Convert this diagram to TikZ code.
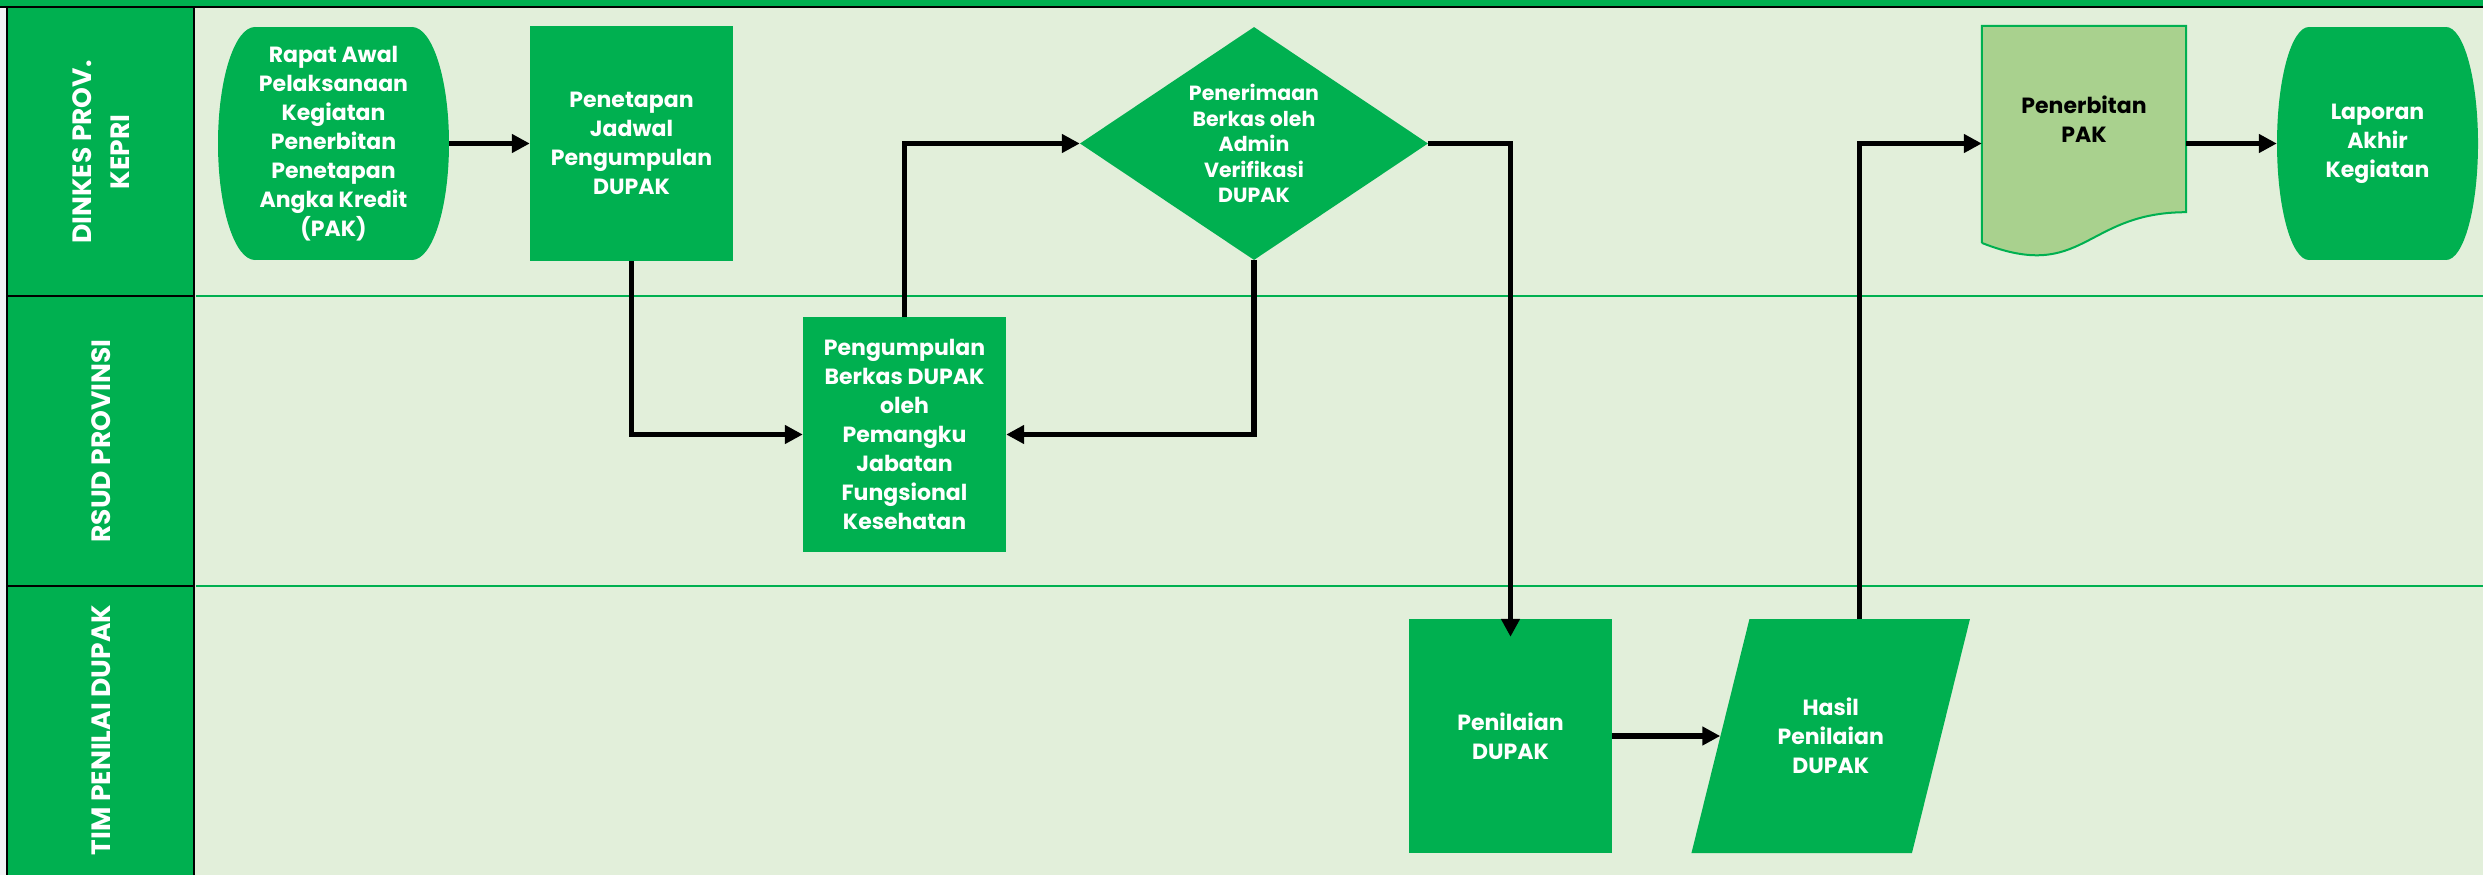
\documentclass[tikz,border=0pt]{standalone}
\usepackage{fontspec}
\setmainfont{Poppins}
\usetikzlibrary{arrows.meta,shapes.geometric}
\definecolor{lanegreen}{HTML}{00B050}
\definecolor{lanefill}{HTML}{E2EFDA}
\definecolor{docfill}{HTML}{A9D18E}
\definecolor{edgefill}{HTML}{F2F3F5}
\tikzset{
  box/.style={inner sep=0pt, align=center, text=white, font=\bfseries\fontsize{22}{29}\selectfont},
  proc/.style={box, fill=lanegreen},
  term/.style={box, fill=lanefill, path picture={
      \fill[lanegreen] ([xshift=#1]path picture bounding box.south west) rectangle ([xshift=-#1]path picture bounding box.north east);
      \fill[lanegreen] ([xshift=#1]path picture bounding box.west) ellipse [x radius=#1, y radius=116.5pt];
      \fill[lanegreen] ([xshift=-#1]path picture bounding box.east) ellipse [x radius=#1, y radius=116.5pt];}},
  decide/.style={box, diamond, fill=lanegreen, aspect=1.49, font=\bfseries\fontsize{20.5}{25.5}\selectfont},
  dataio/.style={box, fill=lanefill, path picture={
      \fill[lanegreen] ([xshift=#1]path picture bounding box.north west) -- (path picture bounding box.north east)
        -- ([xshift=-#1]path picture bounding box.south east) -- (path picture bounding box.south west) -- cycle;}},
  doc/.style={box, fill=docfill, text=black},
  flow/.style={line width=5.5pt, -{Triangle[length=18pt, width=18pt]}},
  lanelabel/.style={rotate=90, align=center, text=white, font=\bfseries\fontsize{26.5}{38}\selectfont}
}
\begin{document}
\begin{tikzpicture}[x=1pt,y=-1pt]
\useasboundingbox (0,0) rectangle (2483,875);

\fill[lanefill] (194,8) rectangle (2483,875);
\fill[lanegreen] (7,8) rectangle (194,875);
\fill[edgefill] (0,8) rectangle (6,875);
\fill[lanegreen] (0,0) rectangle (2483,6);
\draw[line width=2.5pt] (0,7) -- (2483,7);
\draw[line width=2.5pt] (7,7) -- (7,875) (194,7) -- (194,875);

\foreach \y in {296,586} {
  \draw[line width=2.5pt] (7,\y) -- (194,\y);
  \draw[lanegreen, line width=2.5pt] (195.5,\y) -- (2483,\y);
}

\foreach \y/\lanename/\lanetext in {152/dinkes/{DINKES PROV.\\KEPRI}, 441/rsud/{RSUD PROVINSI}, 730/tim/{TIM PENILAI DUPAK}}
  \node[lanelabel] (\lanename) at (101,\y) {\lanetext};

\node[term=37pt, minimum width=231pt, minimum height=233pt] (rapat) at (333.5,143.5) {Rapat Awal\\Pelaksanaan\\Kegiatan\\Penerbitan\\Penetapan\\Angka Kredit\\(PAK)};
\node[proc, minimum width=203pt, minimum height=235pt] (jadwal) at (631.5,143.5) {Penetapan\\Jadwal\\Pengumpulan\\DUPAK};
\node[proc, minimum width=203pt, minimum height=235pt] (kumpul) at (904.5,434.5) {Pengumpulan\\Berkas DUPAK\\oleh\\Pemangku\\Jabatan\\Fungsional\\Kesehatan};
\node[decide, minimum width=348pt, minimum height=233pt] (terima) at (1254,143.5) {Penerimaan\\Berkas oleh\\Admin\\Verifikasi\\DUPAK};
\node[proc, minimum width=203pt, minimum height=234pt] (nilai) at (1510.5,736) {Penilaian\\DUPAK};
\node[dataio=58pt, minimum width=278.5pt, minimum height=234pt] (hasil) at (1830.7,736) {Hasil\\Penilaian\\DUPAK};
\node[doc, minimum width=204pt, minimum height=186pt] (pak) at (2084,119) {Penerbitan\\PAK};
\fill[docfill] (pak.south east) .. controls (pak.south) and ([yshift=-71pt]pak.south) .. ([yshift=-30.7pt]pak.south west) -- (pak.south west) -- cycle;
\draw[lanegreen, line width=2pt] ([yshift=-30.7pt]pak.south west) -- (pak.north west) -- (pak.north east) -- (pak.south east) .. controls (pak.south) and ([yshift=-71pt]pak.south) .. ([yshift=-30.7pt]pak.south west);
\node[term=32pt, minimum width=201pt, minimum height=233pt] (lapor) at (2377.5,143.5) {Laporan\\Akhir\\Kegiatan};

\draw[flow] (rapat.east) -- (jadwal.west);
\draw[flow] (jadwal.south) |- (kumpul.west);
\draw[flow] (kumpul.north) |- (terima.west);
\draw[flow] (terima.south) |- (kumpul.east);
\draw[flow, shorten >=-18pt] (terima.east) -| (nilai.north);
\draw[flow] (nilai.east) -- ([xshift=29pt]hasil.west);
\draw[flow] ([xshift=29pt]hasil.north) |- (pak.west |- terima.east);
\draw[flow] (pak.east |- lapor.west) -- (lapor.west);

\end{tikzpicture}
\end{document}
